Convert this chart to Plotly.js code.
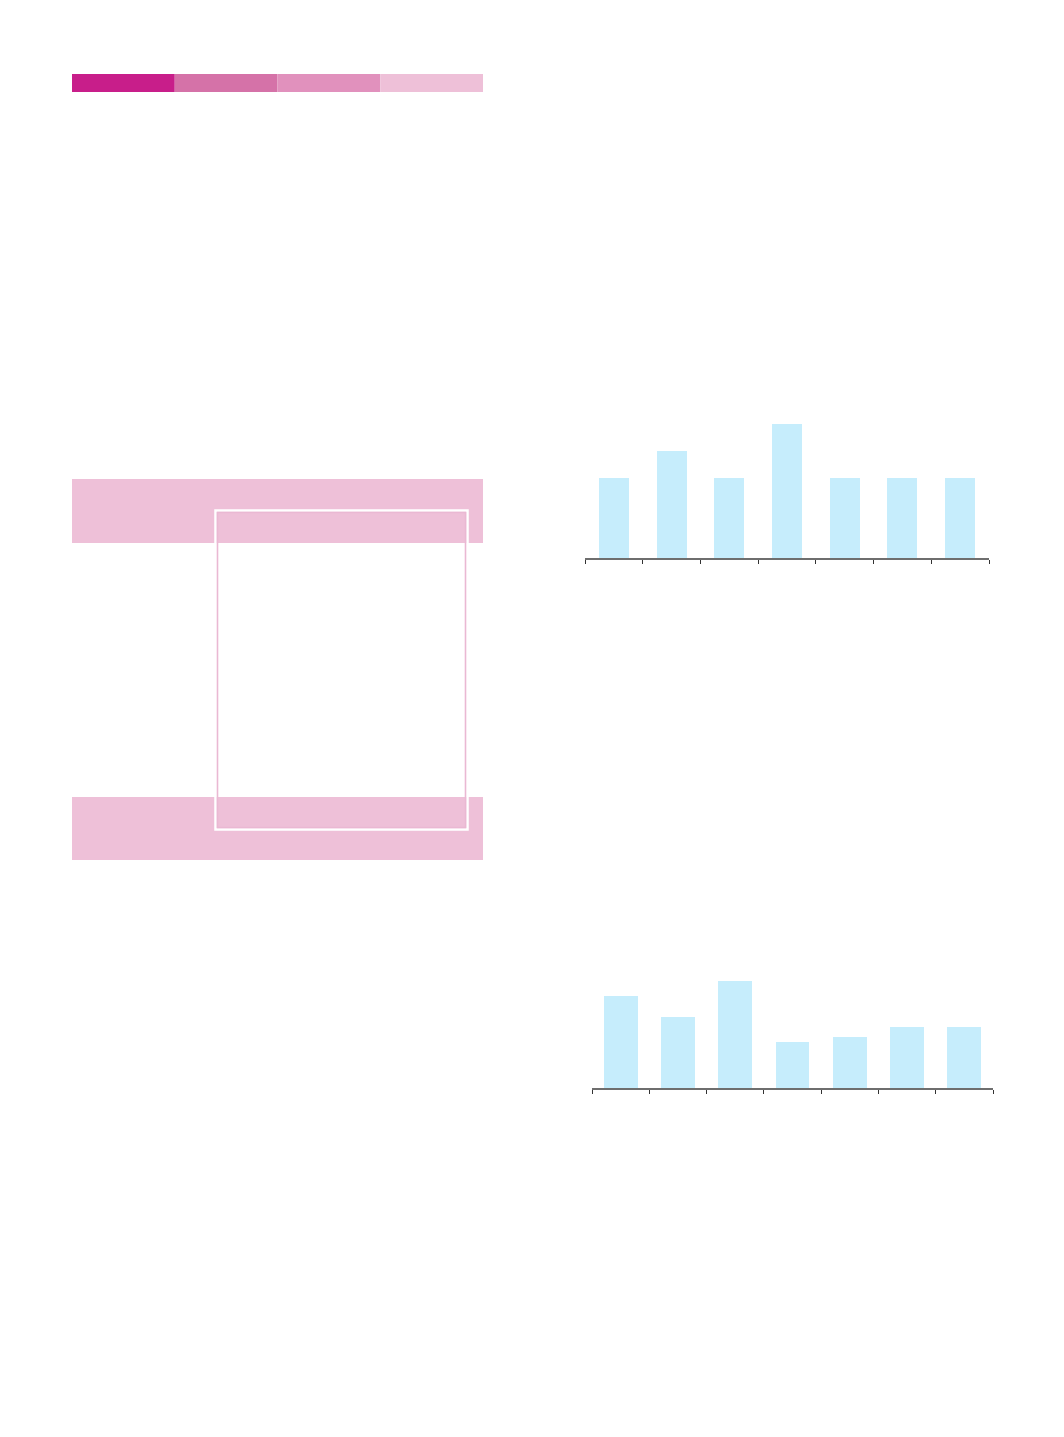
<!DOCTYPE html>
<html>
<head>
<meta charset="utf-8">
<script src="https://cdn.plot.ly/plotly-3.0.1.min.js"></script>
<style>
  html, body { margin: 0; padding: 0; background: #fff; }
  #chart { width: 1064px; height: 1437px; }
</style>
</head>
<body>
<div id="chart"></div>
<script>
// Data
var categories = ["1", "2", "3", "4", "5", "6", "7"];
var topValues = [3, 4, 3, 5, 3, 3, 3];
var bottomValues = [18, 14, 21, 9, 10, 12, 12];
var stripColors = ["#c81e8a", "#d572a8", "#e191bd", "#eec0d8"];

var W = 1064, H = 1437;
var barColor = "#c6edfc";
var pink = "#eec0d8";

// pixel -> paper helpers
function px(x) { return x / W; }
function py(y) { return 1 - y / H; }

var traces = [
  {
    type: "bar", x: categories, y: topValues, xaxis: "x", yaxis: "y",
    width: 0.52, marker: { color: barColor, line: { width: 0 } }, hoverinfo: "none"
  },
  {
    type: "bar", x: categories, y: bottomValues, xaxis: "x2", yaxis: "y2",
    width: 0.59, marker: { color: barColor, line: { width: 0 } }, hoverinfo: "none"
  }
];

function catAxis(domain, anchor) {
  return {
    domain: domain, anchor: anchor, type: "category",
    showticklabels: false, showgrid: false, zeroline: false,
    showline: true, linecolor: "#6e6e6e", linewidth: 1.5,
    ticks: "outside", tickson: "boundaries", ticklen: 4, tickwidth: 1, tickcolor: "#333",
    fixedrange: true
  };
}
function valAxis(domain, anchor, range) {
  return {
    domain: domain, anchor: anchor, range: range,
    visible: false, showgrid: false, zeroline: false, fixedrange: true
  };
}

// decorative shapes
var shapes = [];
var segW = (483 - 72) / stripColors.length;
stripColors.forEach(function(c, i) {
  shapes.push({
    type: "rect", xref: "paper", yref: "paper", layer: "below",
    x0: px(72 + i * segW), x1: px(72 + (i + 1) * segW), y0: py(92), y1: py(74),
    fillcolor: c, line: { width: 0 }
  });
});
[[479, 543], [797, 860]].forEach(function(b) {
  shapes.push({
    type: "rect", xref: "paper", yref: "paper", layer: "below",
    x0: px(72), x1: px(483), y0: py(b[1]), y1: py(b[0]),
    fillcolor: pink, line: { width: 0 }
  });
});
shapes.push({
  type: "rect", xref: "paper", yref: "paper", layer: "below",
  x0: px(215.5), x1: px(467.5), y0: py(829.5), y1: py(510.5),
  fillcolor: "rgba(0,0,0,0)", line: { color: "#ffffff", width: 2.5 }
});
shapes.push({
  type: "rect", xref: "paper", yref: "paper", layer: "below",
  x0: px(217.5), x1: px(465.5), y0: py(827.5), y1: py(512.5),
  fillcolor: "rgba(0,0,0,0)", line: { color: "#eab8d3", width: 1.6 }
});

var layout = {
  width: W, height: H,
  margin: { l: 0, r: 0, t: 0, b: 0 },
  paper_bgcolor: "#ffffff", plot_bgcolor: "rgba(0,0,0,0)",
  showlegend: false,
  bargap: 0,
  xaxis: catAxis([px(585), px(989)], "y"),
  yaxis: valAxis([py(558), py(558 - 26.7 * 6)], "x", [0, 6]),
  xaxis2: catAxis([px(592), px(993)], "y2"),
  yaxis2: valAxis([py(1088), py(1088 - 5.1 * 24)], "x2", [0, 24]),
  shapes: shapes
};

Plotly.newPlot("chart", traces, layout, { staticPlot: true, displayModeBar: false });
</script>
</body>
</html>
